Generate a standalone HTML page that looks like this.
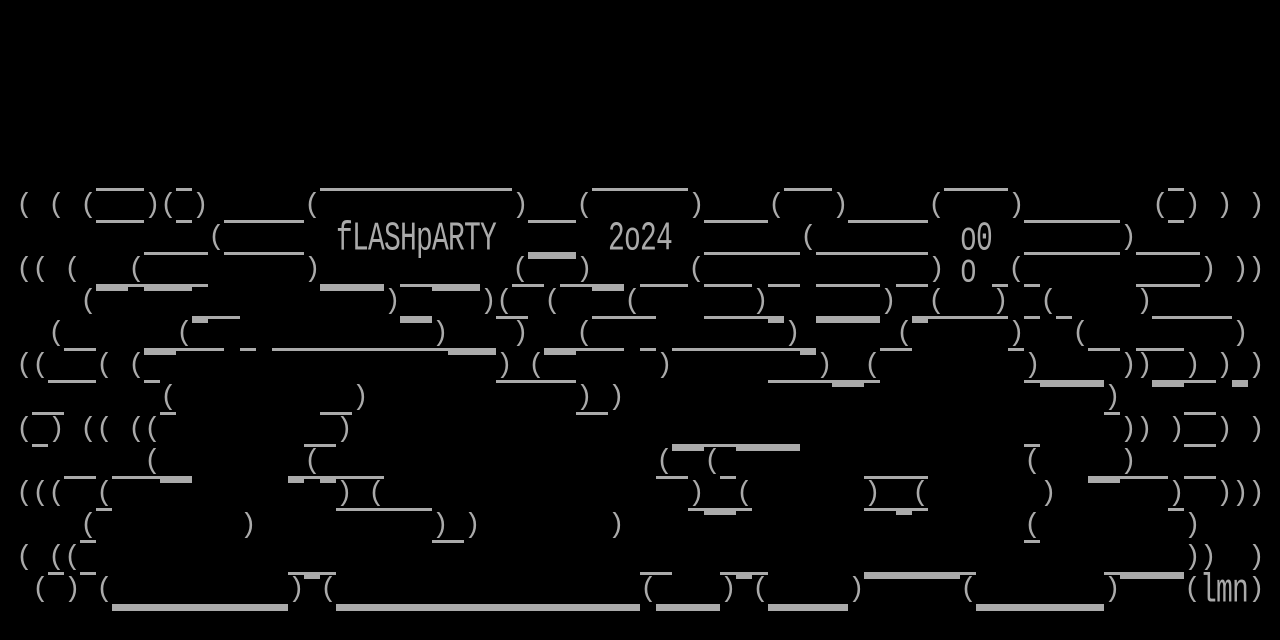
<!DOCTYPE html>
<html><head><meta charset="utf-8">
<style>
html,body{margin:0;padding:0;background:#000;}
#c{position:relative;width:1280px;height:640px;overflow:hidden;background:#000;}
.r{position:absolute;left:0;width:1280px;height:32px;}
.r span{position:absolute;top:0;font-family:"Liberation Mono",monospace;font-size:28px;line-height:32px;color:#aaa;white-space:pre;letter-spacing:-0.8px;}
.r span.t{transform-origin:0 23.5px;transform:translateY(6px) scaleY(1.45);}
i{position:absolute;height:3px;background:#aaa;display:block;}
i.k{height:7px;}
</style></head><body><div id="c">

<div class="r" style="top:190px">
<span style="left:16px">(</span><span style="left:48px">(</span><span style="left:80px">(</span><span style="left:144px">)</span><span style="left:160px">(</span><span style="left:192px">)</span><span style="left:304px">(</span><span style="left:512px">)</span><span style="left:576px">(</span><span style="left:688px">)</span><span style="left:768px">(</span><span style="left:832px">)</span><span style="left:928px">(</span><span style="left:1008px">)</span><span style="left:1152px">(</span><span style="left:1184px">)</span><span style="left:1216px">)</span><span style="left:1248px">)</span>
</div>
<div class="r" style="top:222px">
<span style="left:208px">(</span><span class="t" style="left:336px">fLASHpARTY</span><span class="t" style="left:608px">2o24</span><span style="left:800px">(</span><span class="t" style="left:960px">o0</span><span style="left:1120px">)</span>
</div>
<div class="r" style="top:254px">
<span style="left:16px">(</span><span style="left:32px">(</span><span style="left:64px">(</span><span style="left:128px">(</span><span style="left:304px">)</span><span style="left:512px">(</span><span style="left:576px">)</span><span style="left:688px">(</span><span style="left:928px">)</span><span class="t" style="left:960px">o</span><span style="left:1008px">(</span><span style="left:1200px">)</span><span style="left:1232px">)</span><span style="left:1248px">)</span>
</div>
<div class="r" style="top:286px">
<span style="left:80px">(</span><span style="left:384px">)</span><span style="left:480px">)</span><span style="left:496px">(</span><span style="left:544px">(</span><span style="left:624px">(</span><span style="left:752px">)</span><span style="left:880px">)</span><span style="left:928px">(</span><span style="left:992px">)</span><span style="left:1040px">(</span><span style="left:1136px">)</span>
</div>
<div class="r" style="top:318px">
<span style="left:48px">(</span><span style="left:176px">(</span><span style="left:432px">)</span><span style="left:512px">)</span><span style="left:576px">(</span><span style="left:784px">)</span><span style="left:896px">(</span><span style="left:1008px">)</span><span style="left:1072px">(</span><span style="left:1232px">)</span>
</div>
<div class="r" style="top:350px">
<span style="left:16px">(</span><span style="left:32px">(</span><span style="left:96px">(</span><span style="left:128px">(</span><span style="left:496px">)</span><span style="left:528px">(</span><span style="left:656px">)</span><span style="left:816px">)</span><span style="left:864px">(</span><span style="left:1024px">)</span><span style="left:1120px">)</span><span style="left:1136px">)</span><span style="left:1184px">)</span><span style="left:1216px">)</span><span style="left:1248px">)</span>
</div>
<div class="r" style="top:382px">
<span style="left:160px">(</span><span style="left:352px">)</span><span style="left:576px">)</span><span style="left:608px">)</span><span style="left:1104px">)</span>
</div>
<div class="r" style="top:414px">
<span style="left:16px">(</span><span style="left:48px">)</span><span style="left:80px">(</span><span style="left:96px">(</span><span style="left:128px">(</span><span style="left:144px">(</span><span style="left:336px">)</span><span style="left:1120px">)</span><span style="left:1136px">)</span><span style="left:1168px">)</span><span style="left:1216px">)</span><span style="left:1248px">)</span>
</div>
<div class="r" style="top:446px">
<span style="left:144px">(</span><span style="left:304px">(</span><span style="left:656px">(</span><span style="left:704px">(</span><span style="left:1024px">(</span><span style="left:1120px">)</span>
</div>
<div class="r" style="top:478px">
<span style="left:16px">(</span><span style="left:32px">(</span><span style="left:48px">(</span><span style="left:96px">(</span><span style="left:336px">)</span><span style="left:368px">(</span><span style="left:688px">)</span><span style="left:736px">(</span><span style="left:864px">)</span><span style="left:912px">(</span><span style="left:1040px">)</span><span style="left:1168px">)</span><span style="left:1216px">)</span><span style="left:1232px">)</span><span style="left:1248px">)</span>
</div>
<div class="r" style="top:510px">
<span style="left:80px">(</span><span style="left:240px">)</span><span style="left:432px">)</span><span style="left:464px">)</span><span style="left:608px">)</span><span style="left:1024px">(</span><span style="left:1184px">)</span>
</div>
<div class="r" style="top:542px">
<span style="left:16px">(</span><span style="left:48px">(</span><span style="left:64px">(</span><span style="left:1184px">)</span><span style="left:1200px">)</span><span style="left:1248px">)</span>
</div>
<div class="r" style="top:574px">
<span style="left:32px">(</span><span style="left:64px">)</span><span style="left:96px">(</span><span style="left:288px">)</span><span style="left:320px">(</span><span style="left:640px">(</span><span style="left:720px">)</span><span style="left:752px">(</span><span style="left:848px">)</span><span style="left:960px">(</span><span style="left:1104px">)</span><span style="left:1184px">(</span><span class="t" style="left:1200px">lmn</span><span style="left:1248px">)</span>
</div>

<!-- row 5 -->
<i style="top:188px;left:96px;width:48px"></i><i style="top:188px;left:176px;width:16px"></i><i style="top:188px;left:320px;width:192px"></i><i style="top:188px;left:592px;width:96px"></i><i style="top:188px;left:784px;width:48px"></i><i style="top:188px;left:944px;width:64px"></i><i style="top:188px;left:1168px;width:16px"></i>
<!-- row 6 -->
<i style="top:220px;left:96px;width:48px"></i><i style="top:220px;left:176px;width:16px"></i><i style="top:220px;left:224px;width:80px"></i><i style="top:220px;left:528px;width:48px"></i><i style="top:220px;left:704px;width:64px"></i><i style="top:220px;left:848px;width:80px"></i><i style="top:220px;left:1024px;width:96px"></i><i style="top:220px;left:1168px;width:16px"></i>
<!-- row 7 -->
<i style="top:252px;left:144px;width:64px"></i><i style="top:252px;left:224px;width:80px"></i><i class="k" style="top:252px;left:528px;width:48px"></i><i style="top:252px;left:704px;width:96px"></i><i style="top:252px;left:816px;width:112px"></i><i style="top:252px;left:1024px;width:96px"></i><i style="top:252px;left:1136px;width:64px"></i>
<!-- row 8 -->
<i class="k" style="top:284px;left:96px;width:32px"></i><i style="top:284px;left:128px;width:16px"></i><i class="k" style="top:284px;left:144px;width:48px"></i><i style="top:284px;left:192px;width:16px"></i><i class="k" style="top:284px;left:320px;width:64px"></i><i style="top:284px;left:400px;width:32px"></i><i class="k" style="top:284px;left:432px;width:48px"></i><i style="top:284px;left:512px;width:32px"></i><i style="top:284px;left:560px;width:32px"></i><i class="k" style="top:284px;left:592px;width:32px"></i><i style="top:284px;left:640px;width:48px"></i><i style="top:284px;left:704px;width:48px"></i><i style="top:284px;left:768px;width:32px"></i><i style="top:284px;left:816px;width:64px"></i><i style="top:284px;left:896px;width:32px"></i><i style="top:284px;left:992px;width:16px"></i><i style="top:284px;left:1024px;width:16px"></i><i style="top:284px;left:1136px;width:64px"></i>
<!-- row 9 -->
<i class="k" style="top:316px;left:192px;width:16px"></i><i style="top:316px;left:208px;width:32px"></i><i class="k" style="top:316px;left:400px;width:32px"></i><i style="top:316px;left:496px;width:32px"></i><i style="top:316px;left:592px;width:64px"></i><i style="top:316px;left:704px;width:64px"></i><i class="k" style="top:316px;left:768px;width:16px"></i><i class="k" style="top:316px;left:816px;width:64px"></i><i class="k" style="top:316px;left:912px;width:16px"></i><i style="top:316px;left:928px;width:80px"></i><i style="top:316px;left:1024px;width:16px"></i><i style="top:316px;left:1056px;width:16px"></i><i style="top:316px;left:1152px;width:80px"></i>
<!-- row 10 -->
<i style="top:348px;left:64px;width:32px"></i><i class="k" style="top:348px;left:144px;width:32px"></i><i style="top:348px;left:176px;width:48px"></i><i style="top:348px;left:240px;width:16px"></i><i style="top:348px;left:272px;width:176px"></i><i class="k" style="top:348px;left:448px;width:48px"></i><i class="k" style="top:348px;left:544px;width:32px"></i><i style="top:348px;left:576px;width:48px"></i><i style="top:348px;left:640px;width:16px"></i><i style="top:348px;left:672px;width:128px"></i><i class="k" style="top:348px;left:800px;width:16px"></i><i style="top:348px;left:880px;width:32px"></i><i style="top:348px;left:1008px;width:16px"></i><i style="top:348px;left:1088px;width:32px"></i><i style="top:348px;left:1136px;width:48px"></i>
<!-- row 11 -->
<i style="top:380px;left:48px;width:48px"></i><i style="top:380px;left:144px;width:16px"></i><i style="top:380px;left:496px;width:80px"></i><i style="top:380px;left:768px;width:64px"></i><i class="k" style="top:380px;left:832px;width:32px"></i><i style="top:380px;left:864px;width:16px"></i><i style="top:380px;left:1024px;width:16px"></i><i class="k" style="top:380px;left:1040px;width:64px"></i><i class="k" style="top:380px;left:1152px;width:32px"></i><i style="top:380px;left:1184px;width:32px"></i><i class="k" style="top:380px;left:1232px;width:16px"></i>
<!-- row 12 -->
<i style="top:412px;left:32px;width:32px"></i><i style="top:412px;left:160px;width:16px"></i><i style="top:412px;left:320px;width:32px"></i><i style="top:412px;left:576px;width:32px"></i><i style="top:412px;left:1104px;width:16px"></i><i style="top:412px;left:1184px;width:32px"></i>
<!-- row 13 -->
<i style="top:444px;left:32px;width:16px"></i><i style="top:444px;left:304px;width:32px"></i><i class="k" style="top:444px;left:672px;width:32px"></i><i style="top:444px;left:704px;width:32px"></i><i class="k" style="top:444px;left:736px;width:64px"></i><i style="top:444px;left:1024px;width:16px"></i><i style="top:444px;left:1184px;width:32px"></i>
<!-- row 14 -->
<i style="top:476px;left:64px;width:32px"></i><i style="top:476px;left:112px;width:48px"></i><i class="k" style="top:476px;left:160px;width:32px"></i><i class="k" style="top:476px;left:288px;width:16px"></i><i style="top:476px;left:304px;width:16px"></i><i class="k" style="top:476px;left:320px;width:16px"></i><i style="top:476px;left:336px;width:48px"></i><i style="top:476px;left:656px;width:32px"></i><i style="top:476px;left:720px;width:16px"></i><i style="top:476px;left:864px;width:64px"></i><i class="k" style="top:476px;left:1088px;width:32px"></i><i style="top:476px;left:1120px;width:48px"></i><i style="top:476px;left:1184px;width:32px"></i>
<!-- row 15 -->
<i style="top:508px;left:96px;width:16px"></i><i style="top:508px;left:336px;width:96px"></i><i style="top:508px;left:688px;width:16px"></i><i class="k" style="top:508px;left:704px;width:32px"></i><i style="top:508px;left:736px;width:16px"></i><i style="top:508px;left:864px;width:32px"></i><i class="k" style="top:508px;left:896px;width:16px"></i><i style="top:508px;left:912px;width:16px"></i><i style="top:508px;left:1168px;width:16px"></i>
<!-- row 16 -->
<i style="top:540px;left:80px;width:16px"></i><i style="top:540px;left:432px;width:32px"></i><i style="top:540px;left:1024px;width:16px"></i>
<!-- row 17 -->
<i style="top:572px;left:48px;width:16px"></i><i style="top:572px;left:80px;width:16px"></i><i style="top:572px;left:288px;width:16px"></i><i class="k" style="top:572px;left:304px;width:16px"></i><i style="top:572px;left:320px;width:16px"></i><i style="top:572px;left:640px;width:32px"></i><i style="top:572px;left:720px;width:16px"></i><i class="k" style="top:572px;left:736px;width:16px"></i><i style="top:572px;left:752px;width:16px"></i><i class="k" style="top:572px;left:864px;width:96px"></i><i style="top:572px;left:960px;width:16px"></i><i style="top:572px;left:1104px;width:16px"></i><i class="k" style="top:572px;left:1120px;width:64px"></i>
<!-- row 18 -->
<i class="k" style="top:604px;left:112px;width:176px"></i><i class="k" style="top:604px;left:336px;width:304px"></i><i class="k" style="top:604px;left:656px;width:64px"></i><i class="k" style="top:604px;left:768px;width:80px"></i><i class="k" style="top:604px;left:976px;width:128px"></i>

</div></body></html>
